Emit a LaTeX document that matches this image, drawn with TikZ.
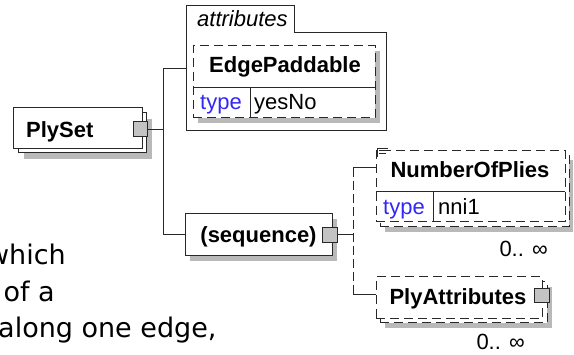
\documentclass[tikz,border=0pt]{standalone}
\usepackage{fontspec}
\setmainfont{Liberation Sans}
\newfontfamily\dvsans{DejaVu Sans}
\definecolor{shade}{RGB}{185,185,185}
\definecolor{sqfill}{RGB}{195,195,195}
\definecolor{typeblue}{RGB}{50,40,245}
\definecolor{edgec}{RGB}{40,40,40}
\tikzset{
  shadowfill/.style={fill=shade, draw=none},
  box/.style={draw=edgec, fill=white, line width=1pt, inner sep=0pt, rectangle},
  dbox/.style={box, dash pattern=on 9pt off 5pt},
  sqbox/.style={draw=edgec, fill=sqfill, line width=1pt, inner sep=0pt, minimum width=14pt, minimum height=14pt},
  conn/.style={draw=edgec, line width=1pt},
  dconn/.style={conn, dash pattern=on 9pt off 4pt},
  divider/.style={draw=edgec, line width=1pt},
  nametxt/.style={font=\fontsize{22}{26}\selectfont\bfseries, inner sep=0pt, text=black},
  plaintxt/.style={font=\fontsize{22}{26}\selectfont, inner sep=0pt, text=black},
  typetxt/.style={plaintxt, text=typeblue},
  bodytxt/.style={font=\dvsans\fontsize{27}{36}\selectfont, inner sep=0pt, text=black},
}
\begin{document}
\begin{tikzpicture}[x=1pt,y=-1pt]
\useasboundingbox (0,0) rectangle (574,355);
\clip (0,0) rectangle (574,355);
\fill[white] (0,0) rectangle (574,355);

% PlySet
\fill[shadowfill] (24,119) rectangle (152,159);
\node[box, minimum width=128pt, minimum height=40pt] (plysetback) at (82,133) {};
\node[box, minimum width=129pt, minimum height=41pt] (plyset) at (77.5,128.5) {};
\node[nametxt, anchor=base west] (plysetname) at (26,138) {PlySet};
\node[sqbox, minimum height=15pt] (plysetsq) at (140,129.5) {};

% trunk
\coordinate (tA) at (163,69);
\coordinate (tB) at (163,235);
\coordinate (attrin) at (186,69);
\draw[conn] (plysetsq.east) -- (plysetsq.east -| tA);
\draw[conn] (tA) -- (tB);

% attributes group
\draw[box] (186,131) -- (186,6) -- (294,6) -- (294,33) -- (386,33) -- (386,131) -- cycle;
\node[plaintxt, font=\fontsize{22}{26}\selectfont\itshape, anchor=base west] (attrlabel) at (197,27) {attributes};
\draw[conn] (tA) -- (attrin);

% EdgePaddable
\fill[shadowfill] (198,51) rectangle (380,123);
\node[dbox, minimum width=182pt, minimum height=72pt] (edgepad) at (284,82) {};
\draw[divider] (193,88) -- (375,88);
\draw[divider] (250,88) -- (250,118);
\node[nametxt, anchor=base] (edgename) at (285,73) {EdgePaddable};
\node[typetxt, anchor=base west] (edgetype) at (200,110) {type};
\node[plaintxt, anchor=base west] (edgeval) at (254,110) {yesNo};

% sequence
\fill[shadowfill] (190,219) rectangle (337,261);
\node[box, minimum width=147pt, minimum height=42pt] (seq) at (258.5,235) {};
\node[nametxt, anchor=base] (seqname) at (258.5,243) {(sequence)};
\node[sqbox, minimum width=15pt, minimum height=15pt] (seqsq) at (330,235) {};
\draw[conn] (tB) -- (tB -| seq.west);

% NumberOfPlies
\fill[shadowfill] (385,160) rectangle (573,232);
\node[dbox, minimum width=189pt, minimum height=72pt] (nopback) at (474.5,191) {};
\node[dbox, minimum width=189pt, minimum height=71pt] (nop) at (470.5,186.5) {};
\draw[divider] (376,192) -- (565,192);
\draw[divider] (433,192) -- (433,222);
\draw[edgec, line width=0.8pt] (377,148) -- (377,157) (377,148) -- (388,148) (379,150.5) -- (388,150.5) (379,153) -- (386,153);
\node[nametxt, anchor=base] (nopname) at (470,178) {NumberOfPlies};
\node[typetxt, anchor=base west] (noptype) at (383,215) {type};
\node[plaintxt, anchor=base west] (nopval) at (438,215) {nni1};
\node[plaintxt, anchor=base east] (nopmult) at (548,257) {0.. ∞};

% PlyAttributes
\fill[shadowfill] (385,287) rectangle (552,328);
\node[dbox, minimum width=167pt, minimum height=41pt] (plyattback) at (463.5,302.5) {};
\node[dbox, minimum width=166pt, minimum height=42pt] (plyatt) at (459,298) {};
\node[nametxt, anchor=base] (plyattname) at (458,305) {PlyAttributes};
\node[sqbox, minimum width=15pt, minimum height=14pt] (plyattsq) at (541.5,296) {};
\node[plaintxt, anchor=base east] (plyattmult) at (525,350) {0.. ∞};

% sequence connectors
\coordinate (sA) at (353,168);
\coordinate (sB) at (353,295);
\draw[conn] (seqsq.east) -- (seqsq.east -| sA);
\draw[dconn] (sA) -- (sB);
\draw[conn] (sA) -- (sA -| nop.west);
\draw[conn] (sB) -- (sB -| plyatt.west);

% clipped body text
\node[bodytxt, anchor=base east] (w1) at (66,265) {which};
\node[bodytxt, anchor=base east] (w2) at (55,302) {of a};
\node[bodytxt, anchor=base west] (w3) at (-2,338) {along one edge,};
\end{tikzpicture}
\end{document}
